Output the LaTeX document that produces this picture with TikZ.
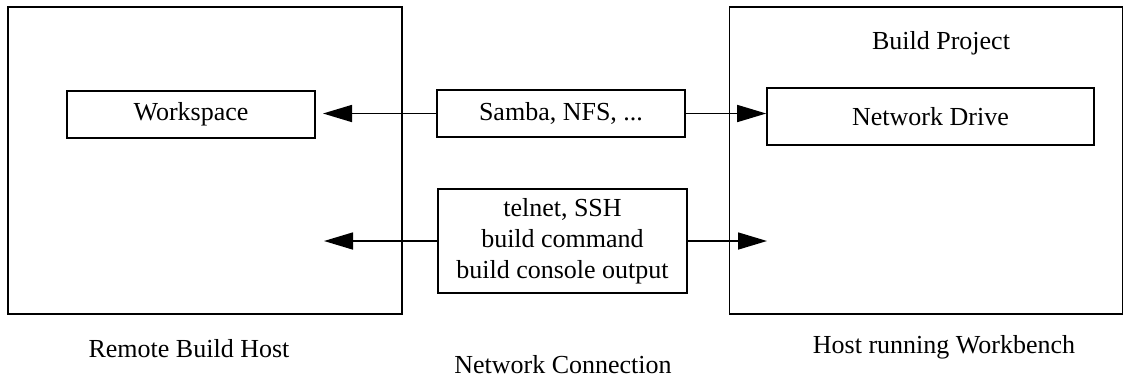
\documentclass[tikz,border=0pt]{standalone}
\usepackage{fontspec}
\setmainfont{Liberation Serif}
\usetikzlibrary{arrows.meta}
\begin{document}
\begin{tikzpicture}[x=0.5pt,y=-0.5pt,
  box/.style={draw,line width=0.8pt,rectangle,inner sep=0pt,font=\fontsize{13}{15.5}\selectfont,align=center},
  txt/.style={inner sep=0pt,font=\fontsize{13}{15.5}\selectfont},
  arr/.style={line width=0.8pt,-{Triangle[length=14.5pt,width=8.5pt]}}]
\useasboundingbox (0,0) rectangle (1124,377);
\node[box,minimum width=197pt,minimum height=153.5pt] (remote) at (205,160.5) {};
\node[box,minimum width=196.5pt,minimum height=153.5pt] (wb) at (926,160.5) {};
\node[box,minimum width=124pt,minimum height=23.5pt] (ws) at (191,114.5) {Workspace};
\node[box,minimum width=163.5pt,minimum height=28.5pt] (nd) at (930.5,116.5) {Network Drive};
\node[box,minimum width=124pt,minimum height=23.5pt] (samba) at (561,113.5) {Samba, NFS, ...};
\node[box,minimum width=124.5pt,minimum height=52pt] (tel) at (562.5,241) {telnet, SSH\\build command\\build console output};
\node[txt] (bp) at (941,43) {Build Project};
\node[txt] (l1) at (189,349) {Remote Build Host};
\node[txt] (l2) at (563,365) {Network Connection};
\node[txt] (l3) at (944,347) {Host running Workbench};
\coordinate (wsend) at (323,113.5);
\coordinate (ltip) at (324,241);
\coordinate (rtip) at (767,241);
\draw[arr] (samba.west) -- (wsend);
\draw[arr] (samba.east) -- (samba.east -| nd.west);
\draw[arr] (tel.west) -- (ltip);
\draw[arr] (tel.east) -- (rtip);
\end{tikzpicture}
\end{document}
